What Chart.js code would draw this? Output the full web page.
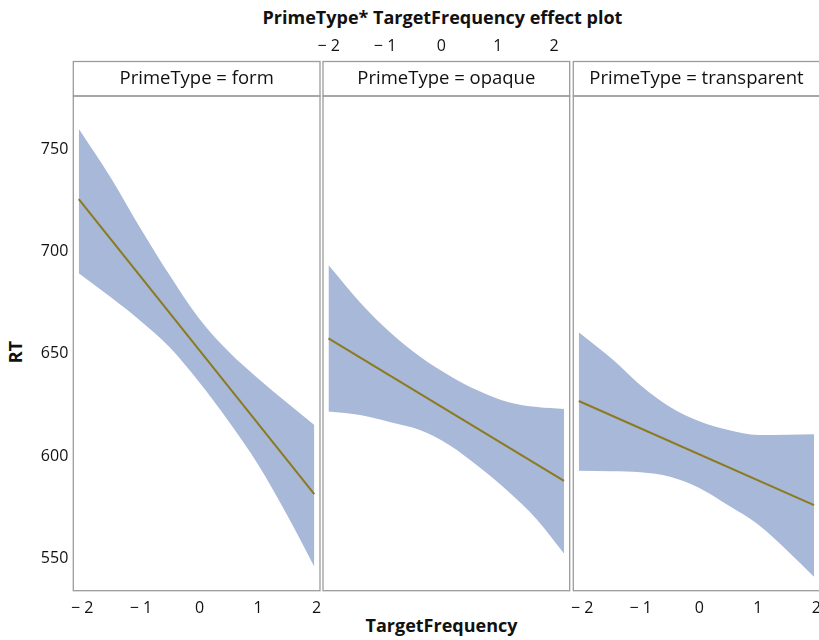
<!DOCTYPE html>
<html>
<head>
<meta charset="utf-8">
<script src="https://cdn.jsdelivr.net/npm/chart.js@4.4.1/dist/chart.umd.min.js"></script>
<style>
  body { margin: 0; background: #fff; width: 819px; height: 640px; overflow: hidden; position: relative; font-family: "Open Sans", sans-serif; color: #111; }
  canvas { position: absolute; left: 0; top: 0; }
  .lbl { position: absolute; white-space: nowrap; line-height: 20px; }
  #title { left: 0; top: 7px; width: 885px; text-align: center; font-weight: bold; font-size: 18px; }
  #xtitle { left: 0; top: 615px; width: 883px; text-align: center; font-weight: bold; font-size: 18px; }
  #ytitle { left: -5px; top: 342px; width: 40px; text-align: center; font-weight: bold; font-size: 18px; transform: rotate(-90deg); }
</style>
</head>
<body>
<div id="title" class="lbl">PrimeType* TargetFrequency effect plot</div>
<div id="xtitle" class="lbl">TargetFrequency</div>
<div id="ytitle" class="lbl">RT</div>
<canvas id="p1" width="840" height="640"></canvas>
<canvas id="p2" width="840" height="640"></canvas>
<canvas id="p3" width="840" height="640"></canvas>
<script>
// values
const primeTypes = ['form', 'opaque', 'transparent'];
const bandX = [-2.06, -1.5, -1.0, -0.5, 0, 0.5, 1.0, 1.5, 1.96];
const fitX = [-2.06, 1.96];

const formFit = [725.6, 581.5];
const formUpper = [760, 735.5, 711, 688, 667, 651, 638, 626, 615.3];
const formLower = [689.4, 677.4, 666, 653, 636, 617, 596, 571, 546];

const opaqueFit = [657.6, 588];
const opaqueUpper = [693.4, 674.5, 660.3, 648.7, 639.5, 632, 626.5, 624, 623.1];
const opaqueLower = [621.8, 620, 616.6, 612.8, 605.5, 595, 583, 569, 552.5];

const transparentFit = [627, 576.1];
const transparentUpper = [660.6, 647.7, 634.6, 624.1, 617.1, 612.8, 610.4, 610.5, 610.7];
const transparentLower = [592.9, 592.7, 592.2, 590, 584.5, 575.9, 566.8, 554, 541.1];

const xTicks = [-2, -1, 0, 1, 2];
const yTicks = [550, 600, 650, 700, 750];

const bandColor = '#A8B8D8';
const fitColor = '#8C7A20';
const frameColor = '#9c9c9c';
const tickFont = { family: '"Open Sans", sans-serif', size: 16 };

function pairs(xs, ys) {
  return xs.map((x, i) => ({ x: x, y: ys[i] }));
}

function minusLabel(v) {
  return v < 0 ? '\u2212 ' + Math.abs(v) : String(v);
}

// panel border + strip with the PrimeType label
const stripPlugin = {
  id: 'strip',
  afterDraw(chart, args, opts) {
    const ctx = chart.ctx;
    const a = chart.chartArea;
    ctx.save();
    ctx.strokeStyle = frameColor;
    ctx.lineWidth = 1.3;
    ctx.strokeRect(a.left, a.top, a.right - a.left, a.bottom - a.top);
    ctx.strokeRect(a.left, opts.top, a.right - a.left, a.top - opts.top);
    ctx.fillStyle = '#111';
    ctx.font = '18.5px "Open Sans", sans-serif';
    ctx.textAlign = 'center';
    ctx.textBaseline = 'middle';
    ctx.fillText('PrimeType = ' + opts.label, (a.left + a.right) / 2, (opts.top + a.top) / 2);
    ctx.restore();
  }
};

function makePanel(id, idx, fit, upper, lower, cfg) {
  const scales = {
    x: {
      type: 'linear',
      min: -2.153,
      max: 2.057,
      display: cfg.xBottom,
      position: 'bottom',
      grid: { display: false, drawTicks: false },
      border: { display: false },
      afterBuildTicks: s => { s.ticks = xTicks.map(v => ({ value: v })); },
      afterFit: s => { if (cfg.xBottom) s.height = 49.3; },
      ticks: { font: tickFont, color: '#111', padding: 8.6, maxRotation: 0, autoSkip: false, callback: minusLabel }
    },
    y: {
      type: 'linear',
      min: 534.3,
      max: 776,
      display: cfg.yLeft,
      grid: { display: false, drawTicks: false },
      border: { display: false },
      afterBuildTicks: s => { s.ticks = yTicks.map(v => ({ value: v })); },
      afterFit: s => { if (cfg.yLeft) s.width = 73.3; },
      ticks: { font: tickFont, color: '#111', padding: 5 }
    }
  };
  if (cfg.xTop) {
    scales.xTop = {
      type: 'linear',
      min: -2.101,
      max: 2.276,
      position: 'top',
      grid: { display: false, drawTicks: false },
      border: { display: false },
      afterBuildTicks: s => { s.ticks = xTicks.map(v => ({ value: v })); },
      afterFit: s => { s.height = 96; },
      ticks: { font: tickFont, color: '#111', padding: 40, maxRotation: 0, autoSkip: false, callback: minusLabel }
    };
  }
  return new Chart(document.getElementById(id), {
    type: 'line',
    data: {
      datasets: [{
        data: pairs(fitX, fit),
        borderColor: fitColor,
        borderWidth: 2,
        pointRadius: 0,
        fill: false
      }, {
        data: pairs(bandX, upper),
        borderColor: 'rgba(0,0,0,0)',
        backgroundColor: bandColor,
        pointRadius: 0,
        fill: '+1',
        cubicInterpolationMode: 'monotone'
      }, {
        data: pairs(bandX, lower),
        borderColor: 'rgba(0,0,0,0)',
        pointRadius: 0,
        fill: false,
        cubicInterpolationMode: 'monotone'
      }]
    },
    options: {
      responsive: false,
      animation: false,
      layout: { autoPadding: false, padding: cfg.padding },
      plugins: {
        legend: { display: false },
        tooltip: { enabled: false },
        strip: { label: primeTypes[idx], top: 61.5 }
      },
      scales: scales
    },
    plugins: [stripPlugin]
  });
}

makePanel('p1', 0, formFit, formUpper, formLower, {
  xBottom: true, yLeft: true, xTop: false,
  padding: { left: 0, right: 520, top: 96, bottom: 0 }
});
makePanel('p2', 1, opaqueFit, opaqueUpper, opaqueLower, {
  xBottom: false, yLeft: false, xTop: true,
  padding: { left: 323, right: 270.3, top: 0, bottom: 49.3 }
});
makePanel('p3', 2, transparentFit, transparentUpper, transparentLower, {
  xBottom: true, yLeft: false, xTop: false,
  padding: { left: 573.3, right: 20.3, top: 96, bottom: 0 }
});
</script>
</body>
</html>
